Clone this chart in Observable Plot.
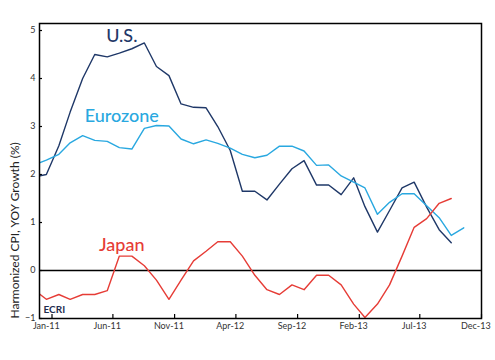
<!DOCTYPE html>
<html><head><meta charset="utf-8">
<script src="https://cdn.jsdelivr.net/npm/d3@7"></script>
<script src="https://cdn.jsdelivr.net/npm/@observablehq/plot@0.6"></script>
<style>
body{margin:0;background:#fff;}
#chart svg{font-family:Lato,"DejaVu Sans",sans-serif;}
</style>
</head><body><div id="chart"></div>
<script>
// Months Dec-10 .. Nov-13
const months = ["2010-12",
 "2011-01","2011-02","2011-03","2011-04","2011-05","2011-06","2011-07","2011-08","2011-09","2011-10","2011-11","2011-12",
 "2012-01","2012-02","2012-03","2012-04","2012-05","2012-06","2012-07","2012-08","2012-09","2012-10","2012-11","2012-12",
 "2013-01","2013-02","2013-03","2013-04","2013-05","2013-06","2013-07","2013-08","2013-09","2013-10","2013-11"];
const usValues = [1.95,
 2.0,2.6,3.3,4.0,4.5,4.45,4.53,4.62,4.74,4.25,4.06,3.47,
 3.4,3.39,3.0,2.5,1.65,1.65,1.47,1.8,2.12,2.29,1.78,1.78,
 1.58,1.93,1.33,0.8,1.25,1.72,1.84,1.32,0.85,0.58];
const euroValues = [2.2,
 2.3,2.42,2.66,2.81,2.71,2.69,2.56,2.53,2.96,3.02,3.01,2.74,
 2.64,2.72,2.65,2.55,2.42,2.35,2.4,2.59,2.59,2.49,2.19,2.2,
 1.97,1.84,1.72,1.17,1.42,1.6,1.6,1.35,1.1,0.73,0.89];
const japanValues = [-0.4,
 -0.6,-0.5,-0.6,-0.5,-0.5,-0.42,0.3,0.3,0.1,-0.2,-0.6,-0.2,
 0.2,0.4,0.6,0.6,0.3,-0.1,-0.4,-0.5,-0.3,-0.4,-0.1,-0.1,
 -0.3,-0.7,-0.98,-0.7,-0.3,0.3,0.9,1.08,1.4,1.5];
const seriesNames = ["U.S.","Eurozone","Japan"];
const seriesColors = ["#1f3868","#29a8e0","#e63c36"];
const labelMonth = "2011-07-07";
const labelValues = [4.89, 3.22, 0.53];
const yTicks = [-1,0,1,2,3,4,5];
const xTickMonths = ["2011-01","2011-06","2011-11","2012-04","2012-09","2013-02","2013-07","2013-12"];
const xTickLabels = ["Jan-11","Jun-11","Nov-11","Apr-12","Sep-12","Feb-13","Jul-13","Dec-13"];
const yLabel = "Harmonized CPI, YOY Growth (%)";
const brand = "ECRI";

const parse = d3.utcParse("%Y-%m");
const dates = months.map(parse);
const rows = [];
[usValues, euroValues, japanValues].forEach((vals, s) => {
  vals.forEach((v, i) => rows.push({date: dates[i], value: v, series: seriesNames[s]}));
});
const tickDates = xTickMonths.map(parse);
const tickMarkDates = tickDates.map(d => d3.utcDay.offset(d, 14));
const labelFor = new Map(tickDates.map((d, i) => [+d, xTickLabels[i]]));
const labelRows = seriesNames.map((n, i) => ({name: n, date: d3.utcParse("%Y-%m-%d")(labelMonth), value: labelValues[i], color: seriesColors[i]}));

const chart = Plot.plot({
  width: 495, height: 360,
  marginLeft: 39, marginRight: 14, marginTop: 23, marginBottom: 42,
  style: {fontFamily: "Lato, 'DejaVu Sans', sans-serif", background: "#fff"},
  x: {type: "utc", domain: [new Date(Date.UTC(2010,11,15)), new Date(Date.UTC(2013,11,15))]},
  y: {domain: [-1, 5.146]},
  color: {domain: seriesNames, range: seriesColors},
  marks: [
    Plot.axisY({ticks: yTicks, tickFormat: d3.format("d"), tickSize: 0, tickPadding: 4, label: null, fontSize: 9, fill: "#333"}),
    Plot.axisY({ticks: yTicks, tickSize: -3, text: null, label: null, stroke: "#000", strokeWidth: 1.2}),
    Plot.axisX({ticks: tickDates, tickSize: 0, tickPadding: 4, label: null, fontSize: 9, fill: "#333",
      tickFormat: d => labelFor.get(+d)}),
    Plot.axisX({ticks: tickMarkDates, tickSize: -4, text: null, label: null, stroke: "#000", strokeWidth: 1.2}),
    Plot.ruleY([0], {stroke: "#000", strokeWidth: 1.5}),
    Plot.line(rows, {x: "date", y: "value", z: "series", stroke: "series", strokeWidth: 1.4, clip: true}),
    Plot.text(labelRows, {x: "date", y: "value", text: "name", fill: "color", fontSize: 18, fontWeight: 500}),
    Plot.text([brand], {frameAnchor: "bottom-left", dx: 4, dy: -6, textAnchor: "start", lineAnchor: "bottom",
      fontSize: 10, fontWeight: "bold", fill: "#1f2d4f"}),
    Plot.text([yLabel], {frameAnchor: "bottom-left", dx: -21, rotate: -90, textAnchor: "start", fontSize: 12, fill: "#222"}),
    Plot.frame({stroke: "#000", strokeWidth: 1.5})
  ]
});
document.getElementById("chart").appendChild(chart);
</script>
</body></html>
